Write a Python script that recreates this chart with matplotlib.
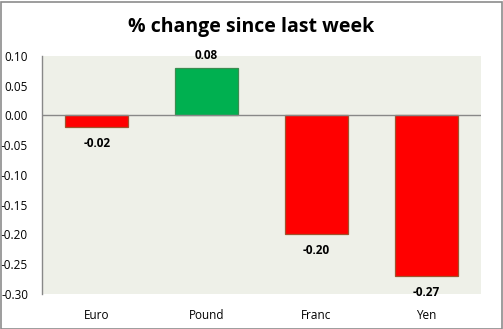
import matplotlib
matplotlib.use("Agg")
import matplotlib.pyplot as plt
from matplotlib.patches import Rectangle

currencies = ["Euro", "Pound", "Franc", "Yen"]
changes = [-0.02, 0.08, -0.20, -0.27]
bar_colors = ["#FF0000", "#00B050", "#FF0000", "#FF0000"]
edge_colors = ["#A0522D", "#3C8C50", "#A0522D", "#A0522D"]
yticks = [0.10, 0.05, 0.00, -0.05, -0.10, -0.15, -0.20, -0.25, -0.30]

plt.rcParams["font.family"] = ["Open Sans", "DejaVu Sans"]

W, H = 503, 329
fig = plt.figure(figsize=(W / 100, H / 100), dpi=100)
fig.patch.set_facecolor("white")

# plot area in pixel coordinates
left, right, top, bottom = 42, 481, 56, 294
ax = fig.add_axes([left / W, 1 - bottom / H, (right - left) / W, (bottom - top) / H])
ax.set_facecolor("#EEF0E8")

x = list(range(len(currencies)))
bars = ax.bar(x, changes, width=0.575, color=bar_colors, edgecolor=edge_colors,
              linewidth=0.9, zorder=3)

ax.set_xlim(-0.5, len(currencies) - 0.5)
ax.set_ylim(-0.30, 0.10)
ax.axhline(0, color="#888888", linewidth=1.0, zorder=4)

ax.set_yticks(yticks)
ax.set_yticklabels([f"{v:.2f}" for v in yticks], fontsize=8.5)
ax.set_xticks(x)
ax.set_xticklabels(currencies, fontsize=8.5)
ax.tick_params(axis="y", length=0, pad=10)
ax.tick_params(axis="x", length=0, pad=11)

for side in ["top", "right", "bottom"]:
    ax.spines[side].set_visible(False)
ax.spines["left"].set_color("#888888")
ax.spines["left"].set_linewidth(1.0)

for xi, v in zip(x, changes):
    if v >= 0:
        ax.annotate(f"{v:.2f}", (xi, v), xytext=(0, 4), textcoords="offset points",
                    ha="center", va="bottom", fontsize=8.5, fontweight="bold")
    else:
        ax.annotate(f"{v:.2f}", (xi, v), xytext=(0, -7), textcoords="offset points",
                    ha="center", va="top", fontsize=8.5, fontweight="bold")

fig.text(0.5, 1 - 27 / H, "% change since last week", ha="center", va="center",
         fontsize=14, fontweight="bold")

# outer chart border
fig.patches.append(Rectangle((0.5 / W, 0.5 / H), 1 - 2 / W, 1 - 2 / H,
                             transform=fig.transFigure, fill=False,
                             edgecolor="#8C8C8C", linewidth=1.2))

fig.savefig("out.png", dpi=100, facecolor="white")
